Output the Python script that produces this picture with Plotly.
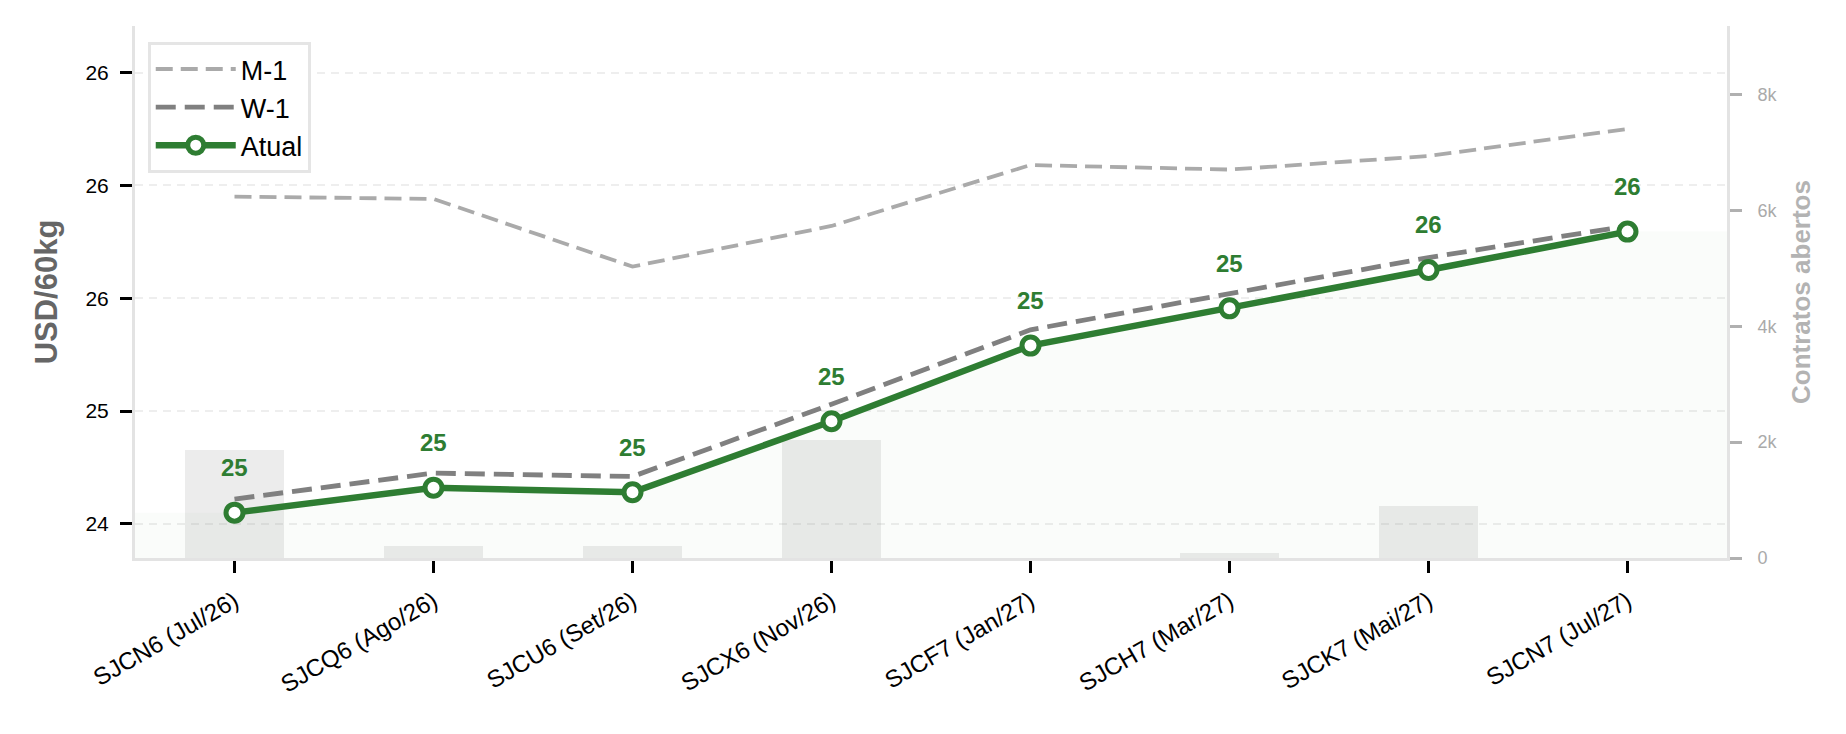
import plotly.graph_objects as go

# ---- data ----
categories = ["SJCN6 (Jul/26)", "SJCQ6 (Ago/26)", "SJCU6 (Set/26)", "SJCX6 (Nov/26)",
              "SJCF7 (Jan/27)", "SJCH7 (Mar/27)", "SJCK7 (Mai/27)", "SJCN7 (Jul/27)"]
atual = [24.55, 24.66, 24.64, 24.955, 25.29, 25.455, 25.625, 25.795]
w1 = [24.61, 24.725, 24.71, 25.03, 25.36, 25.52, 25.68, 25.82]
m1 = [25.95, 25.94, 25.64, 25.82, 26.09, 26.07, 26.13, 26.25]
open_interest = [1860, 215, 215, 2040, 0, 90, 900, 0]

price_tickvals = [24.5, 25.0, 25.5, 26.0, 26.5]
price_ticktext = ["24", "25", "26", "26", "26"]
oi_tickvals = [0, 2000, 4000, 6000, 8000]
oi_ticktext = ["0", "2k", "4k", "6k", "8k"]

FONT = "Liberation Sans, Arial, Helvetica, sans-serif"
GREEN = "#2e7d32"
SPINE = "#e3e3e3"

idx = list(range(len(categories)))
x_lo, x_hi = -0.5, len(categories) - 0.5

fig = go.Figure()

# open interest bars (main axis, right side, drawn beneath)
fig.add_trace(go.Bar(
    x=idx, y=open_interest, width=0.5, yaxis="y",
    marker=dict(color="rgba(158,158,158,0.2)", line=dict(width=0)),
    showlegend=False, hoverinfo="skip"))

# light fill under current curve, extended flat to the axis edges
fig.add_trace(go.Scatter(
    x=[x_lo] + idx + [x_hi], y=[atual[0]] + atual + [atual[-1]],
    mode="lines", line=dict(width=0), fill="tozeroy",
    fillcolor="rgba(46,125,50,0.022)", yaxis="y2",
    showlegend=False, hoverinfo="skip"))

fig.add_trace(go.Scatter(
    x=idx, y=m1, mode="lines", name="M-1", yaxis="y2",
    line=dict(color="#aaaaaa", width=3.8, dash="17px,8px")))
fig.add_trace(go.Scatter(
    x=idx, y=w1, mode="lines", name="W-1", yaxis="y2",
    line=dict(color="#808080", width=4.8, dash="20px,9px")))
fig.add_trace(go.Scatter(
    x=idx, y=atual, mode="lines+markers", name="Atual", yaxis="y2",
    line=dict(color=GREEN, width=6.5),
    marker=dict(symbol="circle", size=17, color="white",
                line=dict(color=GREEN, width=5))))

annotations = []
for i, v in enumerate(atual):
    annotations.append(dict(
        x=i, y=v, xref="x", yref="y2", text=f"<b>{v:.0f}</b>",
        showarrow=False, yshift=45,
        font=dict(family=FONT, size=24, color=GREEN)))

fig.update_layout(
    width=1846, height=734,
    margin=dict(l=135, r=119, t=26, b=176),
    paper_bgcolor="white", plot_bgcolor="white",
    font=dict(family=FONT, color="black"),
    annotations=annotations,
    bargap=0,
    xaxis=dict(
        range=[x_lo, x_hi], tickmode="array", tickvals=idx, ticktext=categories,
        tickangle=-30, ticks="outside", ticklen=12, tickwidth=2.5, tickcolor="black",
        ticklabelstandoff=5,
        tickfont=dict(family=FONT, size=24, color="black"),
        showline=True, linecolor=SPINE, linewidth=3,
        showgrid=False, zeroline=False),
    yaxis=dict(
        side="right", range=[0, max(open_interest) * 4.5],
        tickmode="array", tickvals=oi_tickvals, ticktext=oi_ticktext,
        ticks="outside", ticklen=12, tickwidth=2.5, tickcolor="#b0b0b0",
        ticklabelstandoff=12,
        tickfont=dict(family=FONT, size=18, color="#aaaaaa"),
        showline=True, linecolor=SPINE, linewidth=3,
        showgrid=False, zeroline=False,
        title=dict(text="Contratos abertos", standoff=16,
                   font=dict(family=FONT, size=26, color="#b3b3b3", weight="bold"))),
    yaxis2=dict(
        overlaying="y", side="left", range=[24.349, 26.706],
        tickmode="array", tickvals=price_tickvals, ticktext=price_ticktext,
        ticks="outside", ticklen=12, tickwidth=2.5, tickcolor="black",
        ticklabelstandoff=7,
        tickfont=dict(family=FONT, size=21, color="black"),
        showline=True, linecolor=SPINE, linewidth=3,
        showgrid=True, gridcolor="#eeeeee", gridwidth=2, griddash="8px,6px",
        zeroline=False,
        title=dict(text="USD/60kg", standoff=19,
                   font=dict(family=FONT, size=31, color="#666666", weight="bold"))),
    legend=dict(
        x=0.008, y=0.97, xanchor="left", yanchor="top",
        bgcolor="white", bordercolor="#e5e5e5", borderwidth=3,
        itemwidth=80,
        font=dict(family=FONT, size=27, color="black")),
)

fig.write_html("out.html")
